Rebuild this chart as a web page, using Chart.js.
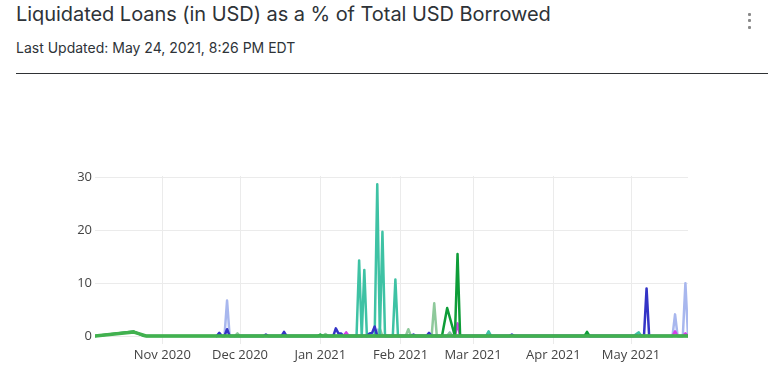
<!DOCTYPE html>
<html>
<head>
<meta charset="utf-8">
<script src="https://cdn.jsdelivr.net/npm/chart.js@4/dist/chart.umd.min.js"></script>
<style>
  html, body { margin: 0; padding: 0; background: #fff; width: 784px; height: 391px; overflow: hidden; }
  #title { position: absolute; left: 16px; top: 4px; font-family: Inter, "Noto Sans", sans-serif; font-size: 20px; line-height: 20px; color: #2e3338; white-space: nowrap; letter-spacing: -0.05px; }
  #subtitle { position: absolute; left: 16px; top: 41px; font-family: Inter, "Noto Sans", sans-serif; font-size: 14px; line-height: 14px; color: #2e3338; white-space: nowrap; }
  #rule { position: absolute; left: 16px; top: 73px; width: 752px; height: 1px; background: #2f3235; }
  .dot { position: absolute; left: 748px; width: 3px; height: 3px; background: #8a8a8a; border-radius: 1px; }
  #c { position: absolute; left: 0; top: 0; }
</style>
</head>
<body>
<div id="title">Liquidated Loans (in USD) as a % of Total USD Borrowed</div>
<div id="subtitle">Last Updated: May 24, 2021, 8:26 PM EDT</div>
<div class="dot" style="top:13px"></div>
<div class="dot" style="top:19px"></div>
<div class="dot" style="top:26px"></div>
<div id="rule"></div>
<canvas id="c" width="784" height="391"></canvas>
<script>
// ---- data ----
const startDate = '2020-10-06';
const endDate = '2021-05-23';

const monthTickDates = ['2020-11-01','2020-12-01','2021-01-01','2021-02-01','2021-03-01','2021-04-01','2021-05-01'];
const monthTickLabels = ['Nov 2020','Dec 2020','Jan 2021','Feb 2021','Mar 2021','Apr 2021','May 2021'];
const yTickValues = [0, 10, 20, 30];

const baseDates  = ['2020-10-06','2020-10-21','2020-10-26','2021-05-23'];
const baseValues = [0, 0.75, 0, 0];

const darkGreenDates  = ['2020-10-06','2020-10-21','2020-10-25','2020-12-31','2021-01-01','2021-01-02','2021-02-17','2021-02-19','2021-02-22','2021-02-23','2021-02-24','2021-04-13','2021-04-14','2021-04-15','2021-05-23'];
const darkGreenValues = [0, 0.85, 0, 0, 0.3, 0, 0, 5.3, 0, 15.5, 0, 0, 0.8, 0, 0];

const tealDates  = ['2021-01-14','2021-01-15','2021-01-16','2021-01-17','2021-01-18','2021-01-19','2021-01-22','2021-01-23','2021-01-24','2021-01-25','2021-01-26','2021-01-29','2021-01-30','2021-01-31','2021-03-06','2021-03-07','2021-03-08','2021-05-02','2021-05-04','2021-05-05'];
const tealValues = [0, 0, 14.3, 0, 12.5, 0, 0, 28.7, 0, 19.7, 0, 0, 10.7, 0, 0, 0.9, 0, 0, 0.7, 0];

const sageDates  = ['2020-11-29','2020-11-30','2020-12-01','2021-01-02','2021-01-03','2021-01-04','2021-01-23','2021-01-24','2021-01-25','2021-02-03','2021-02-04','2021-02-05','2021-02-13','2021-02-14','2021-02-15','2021-02-19','2021-02-20','2021-02-21'];
const sageValues = [0, 0.5, 0, 0, 0.4, 0, 0, 1.4, 0, 0, 1.3, 0, 0, 6.2, 0, 0, 0.6, 0];

const darkBlueDates  = ['2020-11-22','2020-11-23','2020-11-24','2020-11-25','2020-11-26','2020-11-27','2020-12-10','2020-12-11','2020-12-12','2020-12-17','2020-12-18','2020-12-19','2021-01-06','2021-01-07','2021-01-08','2021-01-09','2021-01-10','2021-01-19','2021-01-20','2021-01-21','2021-01-22','2021-01-23','2021-02-05','2021-02-06','2021-02-07','2021-02-11','2021-02-12','2021-02-13','2021-03-15','2021-03-16','2021-03-17','2021-05-06','2021-05-07','2021-05-08'];
const darkBlueValues = [0, 0.6, 0, 0, 1.3, 0, 0, 0.3, 0, 0, 0.8, 0, 0, 1.45, 0.5, 0.5, 0, 0, 0.5, 0.6, 1.8, 0, 0, 0.3, 0, 0, 0.6, 0, 0, 0.3, 0, 0, 9.0, 0];

const lavenderDates  = ['2020-11-25','2020-11-26','2020-11-27','2021-01-22','2021-01-23','2021-01-24','2021-02-19','2021-02-20','2021-02-21','2021-05-17','2021-05-18','2021-05-19','2021-05-21','2021-05-22','2021-05-23'];
const lavenderValues = [0, 6.7, 0, 0, 1.2, 0, 0, 0.7, 0, 0, 4.1, 0, 0, 10.0, 0];

const magentaDates  = ['2021-01-10','2021-01-11','2021-01-12','2021-02-22','2021-02-23','2021-02-24','2021-05-17','2021-05-18','2021-05-19','2021-05-21','2021-05-22','2021-05-23'];
const magentaValues = [0, 0.7, 0, 0, 2.4, 0, 0, 0.9, 0, 0, 0.5, 0];

// ---- helpers ----
const DAY = 86400000;
function dayIndex(s) {
  const [y, m, d] = s.split('-').map(Number);
  const [y0, m0, d0] = startDate.split('-').map(Number);
  return Math.round((Date.UTC(y, m - 1, d) - Date.UTC(y0, m0 - 1, d0)) / DAY);
}
function pts(dates, values) { return dates.map((d, i) => ({ x: dayIndex(d), y: values[i] })); }
function ds(label, dates, values, color, width, order) {
  return { label, data: pts(dates, values), borderColor: color, backgroundColor: color, borderWidth: width,
           pointRadius: 0, tension: 0, fill: false, order, borderJoinStyle: 'round', borderCapStyle: 'round' };
}

const tickDays = monthTickDates.map(dayIndex);

new Chart(document.getElementById('c'), {
  type: 'line',
  data: {
    datasets: [
      ds('Base', baseDates, baseValues, '#41b14f', 3.5, 0),
      ds('Dark green', darkGreenDates, darkGreenValues, '#0e9d38', 2.5, 1),
      ds('Magenta', magentaDates, magentaValues, '#d43fe8', 2.5, 2),
      ds('Dark blue', darkBlueDates, darkBlueValues, '#3434c6', 2.5, 3),
      ds('Teal', tealDates, tealValues, '#3ec2a4', 2.5, 4),
      ds('Sage', sageDates, sageValues, '#8ec99b', 2.5, 5),
      ds('Lavender', lavenderDates, lavenderValues, '#a8b7ee', 2.5, 6)
    ]
  },
  options: {
    responsive: false,
    animation: false,
    devicePixelRatio: 1,
    layout: { padding: { top: 176, right: 96, left: 0, bottom: 0 } },
    plugins: { legend: { display: false }, tooltip: { enabled: false } },
    scales: {
      x: {
        type: 'linear',
        min: dayIndex(startDate),
        max: dayIndex(endDate),
        afterBuildTicks: (s) => { s.ticks = tickDays.map(v => ({ value: v })); },
        afterFit: (s) => { s.height = 47; },
        grid: { color: '#ebebeb', drawTicks: false, lineWidth: 1 },
        border: { display: false },
        ticks: {
          autoSkip: false, maxRotation: 0, padding: 3,
          color: '#444', font: { family: '"Open Sans", sans-serif', size: 13 },
          callback: (v) => { const i = tickDays.indexOf(v); return i >= 0 ? monthTickLabels[i] : ''; }
        }
      },
      y: {
        min: -1.5,
        max: 30.25,
        afterBuildTicks: (s) => { s.ticks = yTickValues.map(v => ({ value: v })); },
        afterFit: (s) => { s.width = 95; },
        grid: { color: '#ebebeb', drawTicks: false, lineWidth: 1 },
        border: { display: false },
        ticks: { padding: 3, color: '#444', font: { family: '"Open Sans", sans-serif', size: 13 } }
      }
    }
  }
});
</script>
</body>
</html>
